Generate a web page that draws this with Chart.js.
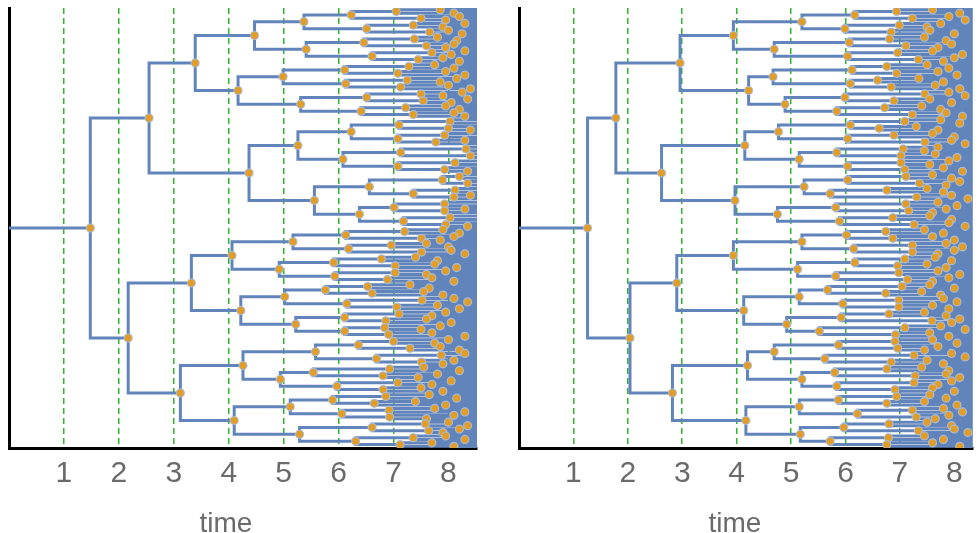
<!DOCTYPE html>
<html>
<head>
<meta charset="utf-8">
<script src="https://cdn.jsdelivr.net/npm/chart.js@4/dist/chart.umd.min.js"></script>
<style>
body { margin: 0; background: #fff; }
#wrap { position: relative; width: 978px; height: 533px; overflow: hidden; }
canvas { position: absolute; top: 0; }
.title { position: absolute; top: 509px; width: 200px; text-align: center;
         font: 28px "Liberation Sans", Arial, sans-serif; line-height: 27px; color: #6a6a6a; }
</style>
</head>
<body>
<div id="wrap">
  <canvas id="leftTree" width="489" height="533" style="left:0"></canvas>
  <canvas id="rightTree" width="489" height="533" style="left:489px"></canvas>
  <div class="title" id="leftTitle" style="left:126px"></div>
  <div class="title" id="rightTitle" style="left:635px"></div>
</div>
<script>
// split times of each branch, one array per depth, listed top to bottom.
// null = the branch does not split before the end of the run
const leftDepth0 = [1.48]
const leftDepth1 = [2.55, 2.17]
const leftDepth2 = [3.39, 4.37, 3.32, 3.12]
const leftDepth3 = [4.47, 4.17, 5.26, 5.56, 4.06, 4.22, 4.26, 4.10]
const leftDepth4 = [5.37, 5.41, 4.99, 5.31, 6.23, 6.08, 6.56, 6.38,
                    5.17, 4.92, 5.02, 5.22, 5.58, 4.94, 5.12, 5.29]
const leftDepth5 = [6.23, 6.51, 6.46, 6.61, 6.11, 6.13, 6.51, 6.41,
                    7.10, 7.08, 7.13, 7.08, 7.89, 7.36, 7.01, 7.18,
                    6.13, 6.18, 5.91, 5.93, 5.76, 6.15, 6.11, 6.11,
                    6.36, 6.69, 5.54, 5.97, 5.89, 6.06, 6.61, 6.31]
const leftDepth6 = [7.05, 7.50, 7.36, 7.66, 7.38, 7.60, 7.70, 7.45,
                    7.28, 7.08, 7.25, 7.13, 7.50, 7.54, 7.22, 7.36,
                    8.03, 8.00, 7.93, 7.77, 8.32, 8.40, 8.12, 7.93,
                    8.20, 8.35, 8.12, 8.10, 7.93, 7.93, 8.03, 7.95,
                    7.20, 7.51, 6.96, 7.51, 6.78, 7.03, 7.03, 6.89,
                    6.53, 6.61, 7.52, 7.06, 7.10, 6.86, 6.84, 6.91,
                    7.00, 7.30, 7.87, 7.51, 6.93, 6.81, 7.08, 6.81,
                    6.86, 6.65, 6.92, 6.93, 7.58, 7.64, 7.36, 7.12]
const leftDepth7 = [7.85, 8.10, 8.20, 7.95, 8.30, 7.90, 8.00, 8.25,
                    7.80, 8.15, 8.10, 7.95, 8.30, 8.05, 7.90, 8.20,
                    7.75, 8.10, 7.95, 8.30, 8.15, 7.85, 8.00, 8.40,
                    8.25, 7.90, 8.35, 8.05, 7.95, 8.20, 8.10, 8.30,
                    null, null, null, 8.40, null, null, 8.30, null,
                    null, null, null, null, null, null, null, 8.35,
                    null, null, null, null, null, null, 8.40, null,
                    null, null, 8.30, null, null, null, null, 8.35,
                    7.90, 8.20, 8.10, 7.85, 7.60, 8.00, 8.05, 8.30,
                    7.40, 7.80, 7.75, 8.15, 7.95, 7.60, 7.70, 8.10,
                    7.30, 7.65, 7.55, 7.90, 8.10, 8.35, 7.80, 8.20,
                    7.95, 7.70, 7.60, 8.05, 7.85, 7.50, 7.70, 8.30,
                    8.00, 7.75, 7.85, 8.20, 8.30, null, 8.10, 7.90,
                    7.55, 8.20, 7.80, 7.45, 8.05, 7.70, 7.50, 7.90,
                    7.65, 8.15, 7.40, 7.95, 7.75, 8.30, 8.10, 7.60,
                    8.00, 8.35, 8.20, 7.90, 7.95, 8.30, 7.70, 8.10]

const rightDepth0 = [1.26]
const rightDepth1 = [1.78, 2.04]
const rightDepth2 = [2.96, 2.62, 2.90, 2.82]
const rightDepth3 = [3.94, 4.22, 4.15, 3.97, 3.94, 4.13, 4.20, 4.17]
const rightDepth4 = [5.20, 4.69, 4.67, 4.89, 4.77, 5.15, 5.24, 4.75,
                     5.20, 5.12, 5.15, 4.92, 4.69, 5.20, 5.15, 5.17]
const rightDepth5 = [6.17, 5.99, 6.07, 6.04, 6.12, 6.09, 5.99, 5.84,
                     6.09, 6.04, 5.84, 6.04, 6.04, 5.72, 5.82, 5.89,
                     6.02, 6.15, 6.17, 5.82, 5.67, 5.95, 5.92, 5.52,
                     5.87, 5.62, 5.80, 5.84, 5.87, 6.22, 5.97, 5.72]
const rightDepth6 = [6.94, 7.23, 6.99, 6.84, 6.81, 7.11, 6.96, 7.34,
                     6.76, 6.94, 6.59, 6.84, 7.46, 6.89, 6.72, 7.23,
                     7.09, 6.62, 6.89, 7.46, 7.06, 7.02, 7.02, 7.09,
                     7.11, 7.36, 6.76, 7.31, 7.11, 7.16, 6.87, 7.26,
                     6.74, 6.87, 7.23, 7.23, 7.09, 6.96, 6.98, 7.14,
                     7.04, 6.74, 6.98, 6.98, 6.80, 7.59, 7.09, 6.92,
                     6.91, 6.96, 7.26, 6.84, 6.76, 7.28, 7.26, 6.91,
                     6.94, 6.76, 7.23, 7.30, 6.80, 7.34, 6.79, 6.76]
const rightDepth7 = [7.60, 8.10, 7.90, 8.20, 7.75, 7.50, 7.55, 8.00,
                     7.45, 7.85, 7.95, 7.70, 7.60, 8.15, 8.00, 7.80,
                     7.50, 7.90, 7.70, 8.05, 7.35, 7.80, 7.65, 8.10,
                     7.90, 8.20, 7.55, 7.95, 7.40, 7.75, 7.85, 8.15,
                     7.75, 8.10, 7.30, 7.70, 7.60, 8.00, 7.95, 8.20,
                     7.70, 7.45, 7.65, 8.05, 7.90, 7.55, 7.80, 8.15,
                     7.60, 7.95, 8.10, 7.85, 7.50, 7.80, 7.95, 8.25,
                     7.70, 8.05, 7.85, 7.60, 7.55, 7.95, 7.90, 8.20,
                     7.45, 7.80, 7.60, 8.00, 7.85, 8.15, 8.00, 7.70,
                     7.65, 7.95, 7.50, 7.85, 7.70, 8.10, 7.90, 7.60,
                     7.55, 8.00, 7.40, 7.75, 7.80, 8.05, 7.60, 7.90,
                     7.45, 7.85, 8.10, 7.95, 7.75, 8.20, 7.55, 7.90,
                     7.60, 8.05, 7.70, 7.45, 7.95, 8.20, 7.50, 7.80,
                     7.40, 7.90, 7.85, 8.10, 7.95, 7.70, 7.60, 8.00,
                     7.55, 7.85, 7.45, 8.05, 7.80, 8.15, 7.90, 7.65,
                     7.50, 7.95, 8.00, 8.25, 7.45, 7.80, 7.60, 8.10]

const tickLabels = [1, 2, 3, 4, 5, 6, 7, 8]
const axisTitle = "time"
const runEnd = 8.52

const branchColor = "#6184ba"
const nodeColor = "#e29d26"
const gridColor = "#2fb52f"

function buildTree(levels) {
    let lines = []
    let nodes = []

    function walk(level, index) {
        let y = (2 * index + 1) / Math.pow(2, level + 1)
        let row = levels[level]
        let t = row ? row[index] : null
        if (t == null || t >= runEnd) return {t: runEnd, y: y}
        let a = walk(level + 1, 2 * index)
        let b = walk(level + 1, 2 * index + 1)
        lines.push({x: a.t, y: a.y}, {x: t, y: a.y}, {x: t, y: b.y}, {x: b.t, y: b.y}, {x: null, y: null})
        nodes.push({x: t, y: y})
        return {t: t, y: y}
    }

    let root = walk(0, 0)
    lines.push({x: 0, y: root.y}, {x: root.t, y: root.y})
    return {lines: lines, nodes: nodes}
}

function drawTree(canvasId, levels, axisLeft, padRight, xMax) {
    let tree = buildTree(levels)
    new Chart(document.getElementById(canvasId), {
        type: 'scatter',
        data: {
            datasets: [
                {
                    data: tree.nodes,
                    order: 0,
                    pointRadius: 4,
                    pointBackgroundColor: nodeColor,
                    pointBorderColor: "rgba(170,190,222,0.9)",
                    pointBorderWidth: 1.2
                },
                {
                    data: tree.lines,
                    order: 1,
                    showLine: true,
                    spanGaps: false,
                    borderColor: branchColor,
                    borderWidth: 3,
                    borderJoinStyle: 'miter',
                    pointRadius: 0,
                    pointHitRadius: 0
                }
            ]
        },
        options: {
            responsive: false,
            animation: false,
            events: [],
            layout: { padding: { top: 8, right: padRight, left: 0, bottom: 0 } },
            plugins: { legend: { display: false }, tooltip: { enabled: false } },
            scales: {
                x: {
                    type: 'linear',
                    min: 0,
                    max: xMax,
                    afterBuildTicks: s => { s.ticks = tickLabels.map(v => ({value: v})) },
                    afterFit: s => { s.height = 85 },
                    grid: { color: gridColor, lineWidth: 1.5, drawTicks: false },
                    border: { color: '#000', width: 3, dash: [6, 4] },
                    ticks: {
                        padding: 8,
                        color: '#6a6a6a',
                        font: { family: '"Liberation Sans", Arial, sans-serif', size: 30 },
                        maxRotation: 0
                    }
                },
                y: {
                    type: 'linear',
                    min: 0,
                    max: 1,
                    reverse: true,
                    afterFit: s => { s.width = axisLeft },
                    grid: { color: 'rgba(0,0,0,0)', drawTicks: false },
                    border: { color: '#000', width: 3 },
                    ticks: { display: false }
                }
            }
        }
    })
}

drawTree("leftTree", [leftDepth0, leftDepth1, leftDepth2, leftDepth3, leftDepth4, leftDepth5, leftDepth6, leftDepth7], 9, 12, 8.52)
drawTree("rightTree", [rightDepth0, rightDepth1, rightDepth2, rightDepth3, rightDepth4, rightDepth5, rightDepth6, rightDepth7], 30, 0, 8.34)

document.getElementById("leftTitle").textContent = axisTitle
document.getElementById("rightTitle").textContent = axisTitle
</script>
</body>
</html>
